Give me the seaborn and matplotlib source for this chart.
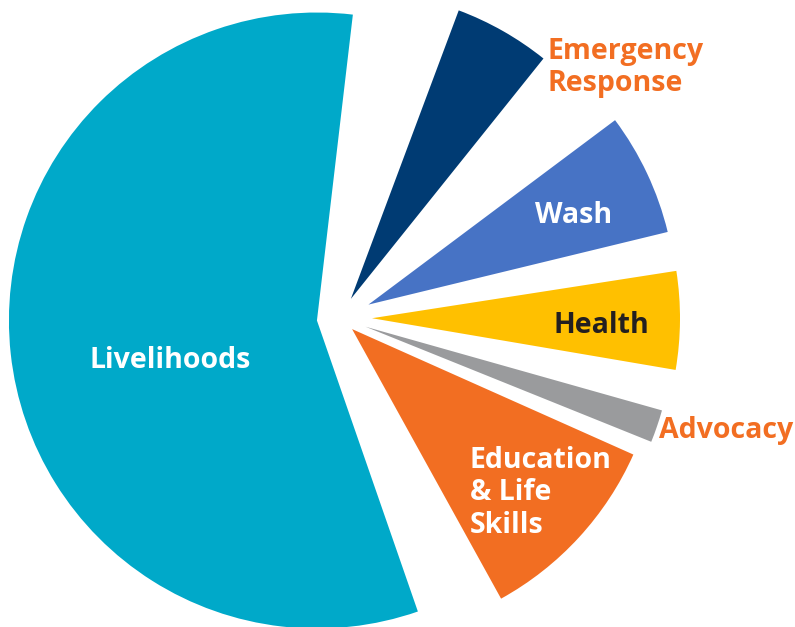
import matplotlib
matplotlib.use("Agg")
import matplotlib.pyplot as plt
import seaborn as sns

# ---- data ----
categories = ["Livelihoods", "Emergency Response", "Wash", "Health",
              "Advocacy", "Education & Life Skills"]
shares = [66.7, 5.9, 7.5, 6.0, 2.0, 12.0]          # percent of the pie
label_lines = [["Livelihoods"], ["Emergency", "Response"], ["Wash"],
               ["Health"], ["Advocacy"], ["Education", "& Life", "Skills"]]

# ---- style ----
colors = ["#00A9C9", "#003B73", "#4773C5", "#FFC000", "#9A9B9D", "#F26E22"]
text_colors = ["white", "#F26E22", "white", "#231F20", "#F26E22", "white"]
# drawing order counter-clockwise, starting at Livelihoods
order = [0, 5, 4, 3, 2, 1]
gap_after = {0: 9.8, 5: 2.1, 4: 6.1, 3: 4.8, 2: 14.5, 1: 13.8}   # degrees
explode_px = {0: 23.2, 1: 22.0, 2: 31.4, 3: 32.0, 4: 27.0, 5: 16.4}
label_pos = {0: (90, 368, "left"), 1: (548, 59, "left"), 2: (535, 223, "left"),
             3: (553, 333, "left"), 4: (659, 438, "left"), 5: (470, 468, "left")}
line_step = 32.5

W, H = 795, 627
sns.set_theme(style="white")
plt.rcParams["font.family"] = ["Open Sans", "DejaVu Sans"]

fig = plt.figure(figsize=(W / 100, H / 100), dpi=100)
ax = fig.add_axes([0, 0, 1, 1])

total_gap = sum(gap_after.values())
avail = 360.0 - total_gap
vals, cols, expl = [], [], []
for i in order:
    vals.append(shares[i] / sum(shares) * avail)
    cols.append(colors[i])
    expl.append(explode_px[i])
    vals.append(gap_after[i])
    cols.append("none")
    expl.append(0)

ax.pie(vals, colors=cols, explode=expl, startangle=83.3, counterclock=True,
       center=(340, H - 318), radius=308,
       wedgeprops=dict(linewidth=0, edgecolor="none"))

for i, lines in enumerate(label_lines):
    x, yb, ha = label_pos[i]
    for k, ln in enumerate(lines):
        ax.text(x, H - (yb + k * line_step), ln, ha=ha, va="baseline",
                color=text_colors[i], fontsize=20.5, fontweight="bold")

ax.set_xlim(0, W)
ax.set_ylim(0, H)
ax.set_aspect("equal")
ax.axis("off")
fig.savefig("out.png", dpi=100, facecolor="white")
